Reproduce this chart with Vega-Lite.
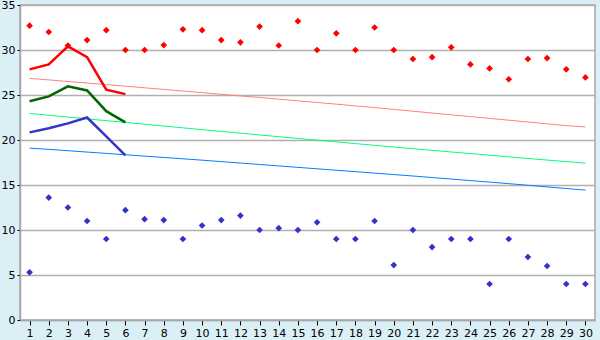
{
  "$schema": "https://vega.github.io/schema/vega-lite/v6.json",
  "autosize": "none",
  "width": 575,
  "height": 315,
  "padding": {"left": 20, "top": 5, "right": 5, "bottom": 20},
  "background": "#dbeff6",
  "config": {
    "view": {"fill": "white", "stroke": "#a8a8a8", "strokeWidth": 1.5},
    "axis": {"labelFont": "DejaVu Sans", "labelFontSize": 11, "labelColor": "black", "domainColor": "#a8a8a8", "domainWidth": 1.5, "tickColor": "#000", "title": null}
  },
  "data": {"values": [
    {"day": 1, "max": 32.7, "min": 5.3, "nmax": 26.85, "nmean": 22.95, "nmin": 19.1, "hmax": 27.85, "hmean": 24.3, "hmin": 20.85},
    {"day": 2, "max": 32.0, "min": 13.6, "nmax": 26.68, "nmean": 22.75, "nmin": 18.96, "hmax": 28.4, "hmean": 24.85, "hmin": 21.3},
    {"day": 3, "max": 30.5, "min": 12.5, "nmax": 26.5, "nmean": 22.55, "nmin": 18.81, "hmax": 30.4, "hmean": 25.96, "hmin": 21.85},
    {"day": 4, "max": 31.1, "min": 11.0, "nmax": 26.33, "nmean": 22.35, "nmin": 18.66, "hmax": 29.2, "hmean": 25.5, "hmin": 22.5},
    {"day": 5, "max": 32.2, "min": 9.0, "nmax": 26.15, "nmean": 22.15, "nmin": 18.51, "hmax": 25.6, "hmean": 23.2, "hmin": 20.4},
    {"day": 6, "max": 30.0, "min": 12.2, "nmax": 25.98, "nmean": 21.95, "nmin": 18.36, "hmax": 25.1, "hmean": 21.96, "hmin": 18.3},
    {"day": 7, "max": 30.0, "min": 11.2, "nmax": 25.8, "nmean": 21.75, "nmin": 18.21},
    {"day": 8, "max": 30.55, "min": 11.1, "nmax": 25.62, "nmean": 21.55, "nmin": 18.06},
    {"day": 9, "max": 32.3, "min": 9.0, "nmax": 25.44, "nmean": 21.35, "nmin": 17.91},
    {"day": 10, "max": 32.2, "min": 10.5, "nmax": 25.26, "nmean": 21.15, "nmin": 17.76},
    {"day": 11, "max": 31.1, "min": 11.1, "nmax": 25.08, "nmean": 20.95, "nmin": 17.6},
    {"day": 12, "max": 30.85, "min": 11.6, "nmax": 24.9, "nmean": 20.76, "nmin": 17.44},
    {"day": 13, "max": 32.6, "min": 10.0, "nmax": 24.72, "nmean": 20.56, "nmin": 17.28},
    {"day": 14, "max": 30.5, "min": 10.2, "nmax": 24.54, "nmean": 20.37, "nmin": 17.12},
    {"day": 15, "max": 33.2, "min": 10.0, "nmax": 24.35, "nmean": 20.17, "nmin": 16.96},
    {"day": 16, "max": 30.0, "min": 10.85, "nmax": 24.17, "nmean": 19.98, "nmin": 16.8},
    {"day": 17, "max": 31.85, "min": 9.0, "nmax": 23.98, "nmean": 19.79, "nmin": 16.64},
    {"day": 18, "max": 30.0, "min": 9.0, "nmax": 23.79, "nmean": 19.6, "nmin": 16.48},
    {"day": 19, "max": 32.5, "min": 11.0, "nmax": 23.6, "nmean": 19.41, "nmin": 16.32},
    {"day": 20, "max": 30.0, "min": 6.1, "nmax": 23.4, "nmean": 19.22, "nmin": 16.16},
    {"day": 21, "max": 29.0, "min": 10.0, "nmax": 23.2, "nmean": 19.04, "nmin": 16.0},
    {"day": 22, "max": 29.2, "min": 8.1, "nmax": 23.0, "nmean": 18.85, "nmin": 15.83},
    {"day": 23, "max": 30.3, "min": 9.0, "nmax": 22.8, "nmean": 18.67, "nmin": 15.66},
    {"day": 24, "max": 28.4, "min": 9.0, "nmax": 22.6, "nmean": 18.49, "nmin": 15.49},
    {"day": 25, "max": 27.95, "min": 4.0, "nmax": 22.4, "nmean": 18.31, "nmin": 15.32},
    {"day": 26, "max": 26.75, "min": 9.0, "nmax": 22.2, "nmean": 18.13, "nmin": 15.15},
    {"day": 27, "max": 29.0, "min": 7.0, "nmax": 22.0, "nmean": 17.95, "nmin": 14.97},
    {"day": 28, "max": 29.1, "min": 6.0, "nmax": 21.8, "nmean": 17.77, "nmin": 14.79},
    {"day": 29, "max": 27.85, "min": 4.0, "nmax": 21.6, "nmean": 17.6, "nmin": 14.61},
    {"day": 30, "max": 26.95, "min": 4.0, "nmax": 21.45, "nmean": 17.42, "nmin": 14.43}
  ]},
  "encoding": {
    "x": {"field": "day", "type": "quantitative", "scale": {"domain": [0.5, 30.5], "nice": false, "zero": false},
      "axis": {"values": [1,2,3,4,5,6,7,8,9,10,11,12,13,14,15,16,17,18,19,20,21,22,23,24,25,26,27,28,29,30], "grid": false, "tickSize": 5, "labelPadding": 2, "format": "d", "labelFlush": false, "labelOverlap": false}}
  },
  "layer": [
    {"mark": {"type": "line", "color": "#ff8080", "strokeWidth": 1}, "encoding": {"y": {"field": "nmax", "type": "quantitative", "scale": {"domain": [0, 35], "nice": false}, "axis": {"values": [0,5,10,15,20,25,30,35], "gridColor": "#b0b0b0", "gridWidth": 1.5, "tickSize": 3, "labelPadding": 2}}}},
    {"mark": {"type": "line", "color": "#00ff80", "strokeWidth": 1}, "encoding": {"y": {"field": "nmean", "type": "quantitative"}}},
    {"mark": {"type": "line", "color": "#0080ff", "strokeWidth": 1}, "encoding": {"y": {"field": "nmin", "type": "quantitative"}}},
    {"mark": {"type": "line", "color": "#ff0000", "strokeWidth": 2.5}, "encoding": {"y": {"field": "hmax", "type": "quantitative"}}},
    {"mark": {"type": "line", "color": "#006600", "strokeWidth": 2.5}, "encoding": {"y": {"field": "hmean", "type": "quantitative"}}},
    {"mark": {"type": "line", "color": "#3333cc", "strokeWidth": 2.5}, "encoding": {"y": {"field": "hmin", "type": "quantitative"}}},
    {"mark": {"type": "point", "shape": "diamond", "filled": true, "color": "#ff0000", "size": 45, "opacity": 1}, "encoding": {"y": {"field": "max", "type": "quantitative"}}},
    {"mark": {"type": "point", "shape": "diamond", "filled": true, "color": "#3333cc", "size": 45, "opacity": 1}, "encoding": {"y": {"field": "min", "type": "quantitative"}}}
  ]
}
